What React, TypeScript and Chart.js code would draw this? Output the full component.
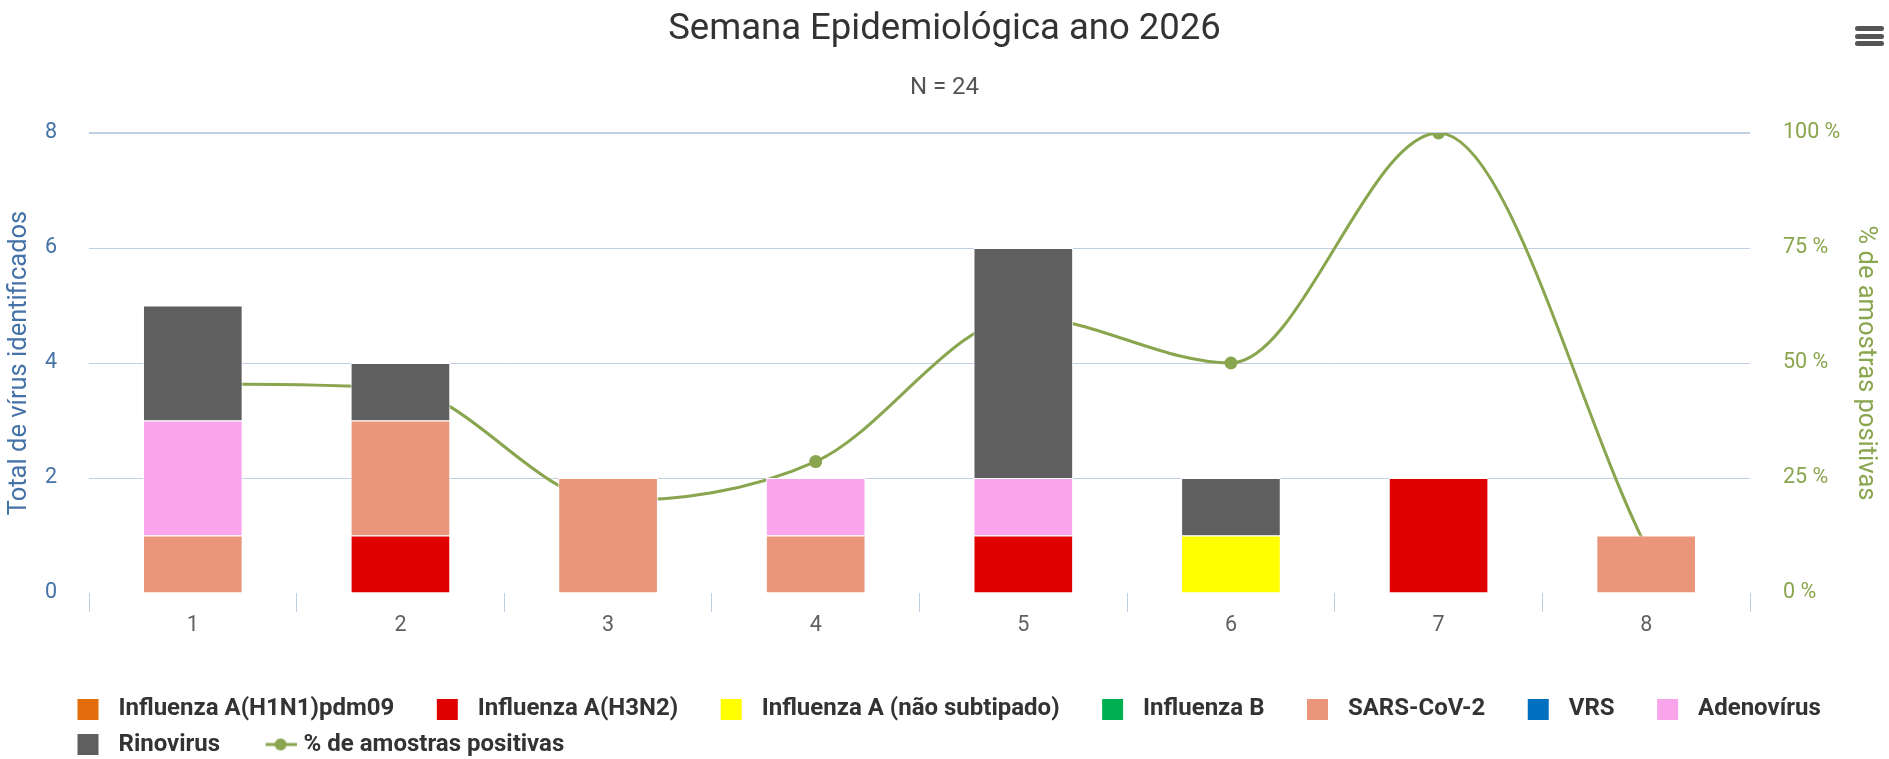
import React, { useEffect, useRef } from 'react';
import { Chart, registerables } from 'chart.js';

Chart.register(...registerables);

// ---- data ----
const weeks = ['1', '2', '3', '4', '5', '6', '7', '8'];
const h1n1 = [0, 0, 0, 0, 0, 0, 0, 0];
const h3n2 = [0, 1, 0, 0, 1, 0, 2, 0];
const fluANotSubtyped = [0, 0, 0, 0, 0, 1, 0, 0];
const fluB = [0, 0, 0, 0, 0, 0, 0, 0];
const sarsCov2 = [1, 2, 2, 1, 0, 0, 0, 1];
const vrs = [0, 0, 0, 0, 0, 0, 0, 0];
const adenovirus = [2, 0, 0, 1, 1, 0, 0, 0];
const rinovirus = [2, 1, 0, 0, 4, 1, 0, 0];
const pctPositive = [45.45, 44.44, 20, 28.57, 60, 50, 100, 10];

const seriesNames = [
  'Influenza A(H1N1)pdm09',
  'Influenza A(H3N2)',
  'Influenza A (não subtipado)',
  'Influenza B',
  'SARS-CoV-2',
  'VRS',
  'Adenovírus',
  'Rinovirus',
];
const seriesColors = ['#E46C0A', '#E00000', '#FFFF00', '#00B050', '#E9967A', '#0070C0', '#F8A5EC', '#5F5F5F'];
const lineName = '% de amostras positivas';
const lineColor = '#89A54E';
const titleText = 'Semana Epidemiológica ano 2026';
const subtitleText = 'N = 24';
const leftTitle = 'Total de vírus identificados';
const rightTitle = '% de amostras positivas';

const FONT = 'Roboto';

function squareSymbol(color: string): HTMLCanvasElement {
  const c = document.createElement('canvas');
  c.width = 60;
  c.height = 21;
  const ctx = c.getContext('2d')!;
  ctx.fillStyle = color;
  ctx.fillRect(31, 0, 21, 21);
  return c;
}

function lineSymbol(color: string): HTMLCanvasElement {
  const c = document.createElement('canvas');
  c.width = 70;
  c.height = 16;
  const ctx = c.getContext('2d')!;
  ctx.strokeStyle = color;
  ctx.lineWidth = 3;
  ctx.beginPath();
  ctx.moveTo(39, 8);
  ctx.lineTo(70, 8);
  ctx.stroke();
  ctx.fillStyle = color;
  ctx.beginPath();
  ctx.arc(54, 8, 6, 0, Math.PI * 2);
  ctx.fill();
  return c;
}

const legendOffset = {
  id: 'legendOffset',
  afterLayout(chart: any) {
    const lg = chart.legend;
    if (!lg) return;
    lg.left += 35;
    lg.right += 35;
    lg.top += 7.5;
    lg.bottom += 7.5;
  },
};

export default function App() {
  const ref = useRef<HTMLCanvasElement | null>(null);

  useEffect(() => {
    if (!ref.current) return;
    const symbols: HTMLCanvasElement[] = [
      ...seriesColors.map((c) => squareSymbol(c)),
      lineSymbol(lineColor),
    ];
    const barSets = [h1n1, h3n2, fluANotSubtyped, fluB, sarsCov2, vrs, adenovirus, rinovirus].map((d, i) => ({
      type: 'bar' as const,
      label: seriesNames[i],
      data: d,
      backgroundColor: seriesColors[i],
      borderColor: '#FFFFFF',
      borderWidth: 1,
      yAxisID: 'y',
      order: 0,
      categoryPercentage: 0.6,
      barPercentage: 0.8,
    }));
    const chart = new Chart(ref.current, {
      type: 'bar',
      data: {
        labels: weeks,
        datasets: [
          ...barSets,
          {
            type: 'line' as const,
            label: lineName,
            data: pctPositive,
            yAxisID: 'y1',
            borderColor: lineColor,
            backgroundColor: lineColor,
            borderWidth: 3,
            pointRadius: 6.5,
            pointBorderWidth: 0,
            pointBackgroundColor: lineColor,
            cubicInterpolationMode: 'monotone',
            fill: false,
            order: 1,
          } as any,
        ],
      },
      options: {
        animation: false,
        responsive: true,
        maintainAspectRatio: false,
        layout: { padding: 0 },
        font: { family: FONT } as any,
        plugins: {
          tooltip: { enabled: false },
          title: {
            display: true,
            text: titleText,
            color: '#333333',
            font: { family: FONT, size: 36.5, weight: 'normal' },
            padding: { top: 7.8, bottom: 0 },
          },
          subtitle: {
            display: true,
            text: subtitleText,
            color: '#555555',
            font: { family: FONT, size: 24, weight: 'normal' },
            padding: { top: 22, bottom: 30.6 },
          },
          legend: {
            position: 'bottom',
            align: 'start',
            labels: {
              usePointStyle: true,
              pointStyleWidth: 60,
              padding: 11.5,
              color: '#333333',
              font: { family: FONT, size: 24, weight: 'bold' },
              generateLabels: (ch: any) => {
                const items = (Chart.defaults.plugins.legend.labels as any).generateLabels(ch);
                return items.map((it: any) => ({
                  ...it,
                  pointStyle: symbols[it.datasetIndex],
                  fontColor: '#333333',
                }));
              },
            },
          },
        },
        scales: {
          x: {
            stacked: true,
            offset: true,
            ticks: { color: '#606060', font: { family: FONT, size: 21.5 }, padding: 1 },
            grid: {
              offset: true,
              drawOnChartArea: false,
              drawTicks: true,
              tickLength: 19,
              tickColor: '#C0D0E0',
              color: '#C0D0E0',
            },
            border: { display: false },
            afterFit: (s: any) => {
              s.height = 85;
            },
          },
          y: {
            stacked: true,
            position: 'left',
            min: 0,
            max: 8,
            ticks: { stepSize: 2, color: '#4572A7', font: { family: FONT, size: 21.5 }, padding: 32 },
            grid: {
              drawTicks: false,
              color: (c: any) => (c.tick && c.tick.value === 0 ? 'rgba(0,0,0,0)' : '#C0D0E0'),
              lineWidth: (c: any) => (c.tick && c.tick.value === 8 ? 2 : 1),
            },
            border: { display: false },
            title: {
              display: true,
              text: leftTitle,
              color: '#4572A7',
              font: { family: FONT, size: 25.5 },
              padding: { top: 4.7, bottom: 0 },
            },
            afterFit: (s: any) => {
              s.width = 89;
            },
          },
          y1: {
            position: 'right',
            min: 0,
            max: 100,
            ticks: {
              stepSize: 25,
              color: lineColor,
              font: { family: FONT, size: 21.5 },
              padding: 33,
              callback: (v: any) => `${v} %`,
            },
            grid: { display: false, drawTicks: false },
            border: { display: false },
            title: {
              display: true,
              text: rightTitle,
              color: lineColor,
              font: { family: FONT, size: 25.5 },
              padding: { top: 8.7, bottom: 0 },
            },
            afterFit: (s: any) => {
              s.width = 139;
            },
          },
        },
      } as any,
      plugins: [legendOffset],
    });
    return () => chart.destroy();
  }, []);

  return (
    <div style={{ position: 'absolute', left: 0, top: 0, width: 1889, height: 759, background: '#fff' }}>
      <canvas ref={ref} />
      <div style={{ position: 'absolute', left: 1855, top: 26, width: 29 }}>
        {[0, 1, 2].map((i) => (
          <div
            key={i}
            style={{ height: 5, background: '#555', borderRadius: 2.5, marginBottom: i < 2 ? 2.5 : 0 }}
          />
        ))}
      </div>
    </div>
  );
}
